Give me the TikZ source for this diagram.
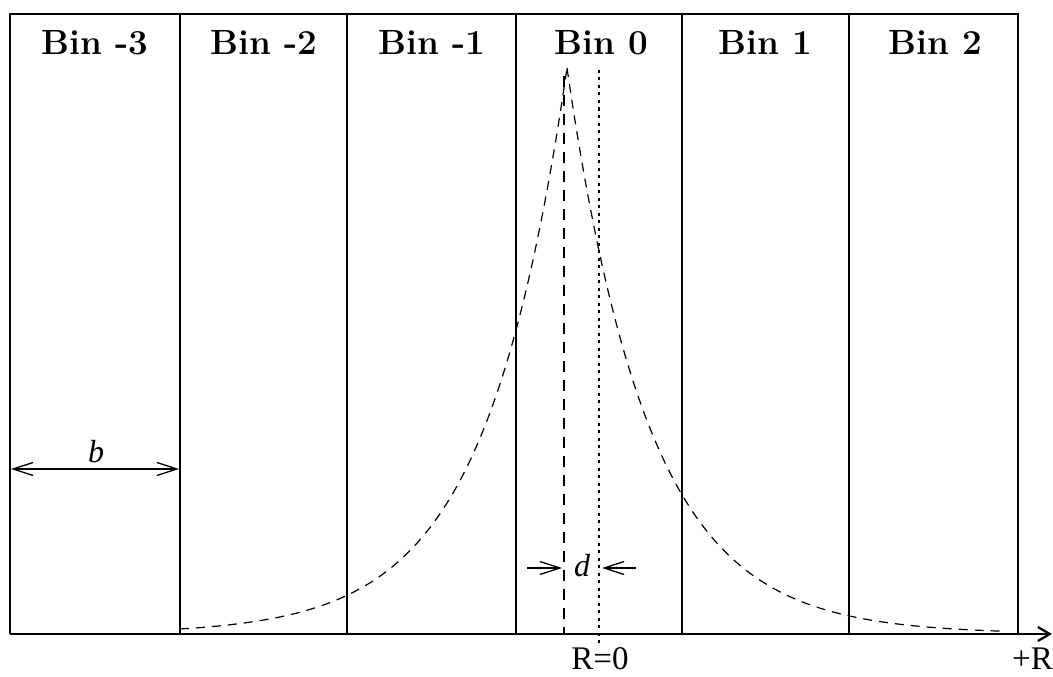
\documentclass[tikz,border=0pt]{standalone}
\usepackage{fontspec}
\newfontfamily\tnr{Liberation Serif}
\usetikzlibrary{arrows.meta}
\tikzset{
  binline/.style={line width=1.3pt},
  frameline/.style={line width=1.8pt},
  binlabel/.style={font=\fontsize{35}{35}\selectfont\bfseries, anchor=base},
  itlabel/.style={font=\tnr\itshape\fontsize{32}{32}\selectfont, anchor=base, inner sep=0pt},
  axlabel/.style={font=\tnr\fontsize{33}{33}\selectfont, anchor=base, inner sep=0pt},
  curve/.style={line width=1.2pt, dash pattern=on 9pt off 7pt},
  peakline/.style={line width=1.4pt, dash pattern=on 11pt off 8pt},
  zeroline/.style={line width=2.2pt, dash pattern=on 3pt off 4.5pt},
  barb/.style={line width=1.2pt, {Straight Barb[length=20pt,width=13pt,line width=1.3pt]}-{Straight Barb[length=20pt,width=13pt,line width=1.3pt]}},
  onebarb/.style={line width=1.2pt, -{Straight Barb[length=20pt,width=13pt,line width=1.3pt]}}
}
\begin{document}
\begin{tikzpicture}[x=1pt,y=-1pt]
\useasboundingbox (0,0) rectangle (1053,677);
% frame
\draw[frameline] (10,634) -- (10,14) -- (1018,14) -- (1018,634);
\foreach \xx in {180,347,516,682,849} {\draw[binline] (\xx,14) -- (\xx,634);}
% axis
\coordinate (axS) at (10,634);
\coordinate (axE) at (1052,634);
\draw[line width=2pt, -{Straight Barb[length=12pt,width=14pt,line width=2.2pt]}] (axS) -- (axE);
% bin labels
\node[binlabel] (bm3) at (95,55) {Bin -3};
\node[binlabel] (bm2) at (263.5,55) {Bin -2};
\node[binlabel] (bm1) at (431.5,55) {Bin -1};
\node[binlabel] (b0) at (601,55) {Bin 0};
\node[binlabel] (b1) at (765.5,55) {Bin 1};
\node[binlabel] (b2) at (935,55) {Bin 2};
% distribution curve
\draw[curve] plot[domain=180:567, samples=120, smooth] (\x, {634-566*exp(-abs(\x-567)/82)});
\draw[curve] plot[domain=567:1000, samples=120, smooth] (\x, {634-566*exp(-abs(\x-567)/82)});
% peak and zero lines
\coordinate (pkT) at (564,76);
\coordinate (pkB) at (564,634);
\draw[peakline] (pkT) -- (pkB);
\coordinate (zT) at (599,70);
\coordinate (zB) at (599,646);
\draw[zeroline] (zT) -- (zB);
% b arrow
\coordinate (bL) at (11,469);
\coordinate (bR) at (179,469);
\draw[barb] (bL) -- (bR);
\node[itlabel] (blab) at (96,462) {b};
% d arrows
\coordinate (dL0) at (527,568);
\coordinate (dL1) at (562,568);
\coordinate (dR0) at (636,568);
\coordinate (dR1) at (602,568);
\draw[onebarb] (dL0) -- (dL1);
\draw[onebarb] (dR0) -- (dR1);
\node[itlabel] (dlab) at (582,576) {d};
% axis labels
\node[axlabel] (r0) at (600,669) {R=0};
\node[axlabel, anchor=base east] (rplus) at (1053,669) {+R};
\end{tikzpicture}
\end{document}
